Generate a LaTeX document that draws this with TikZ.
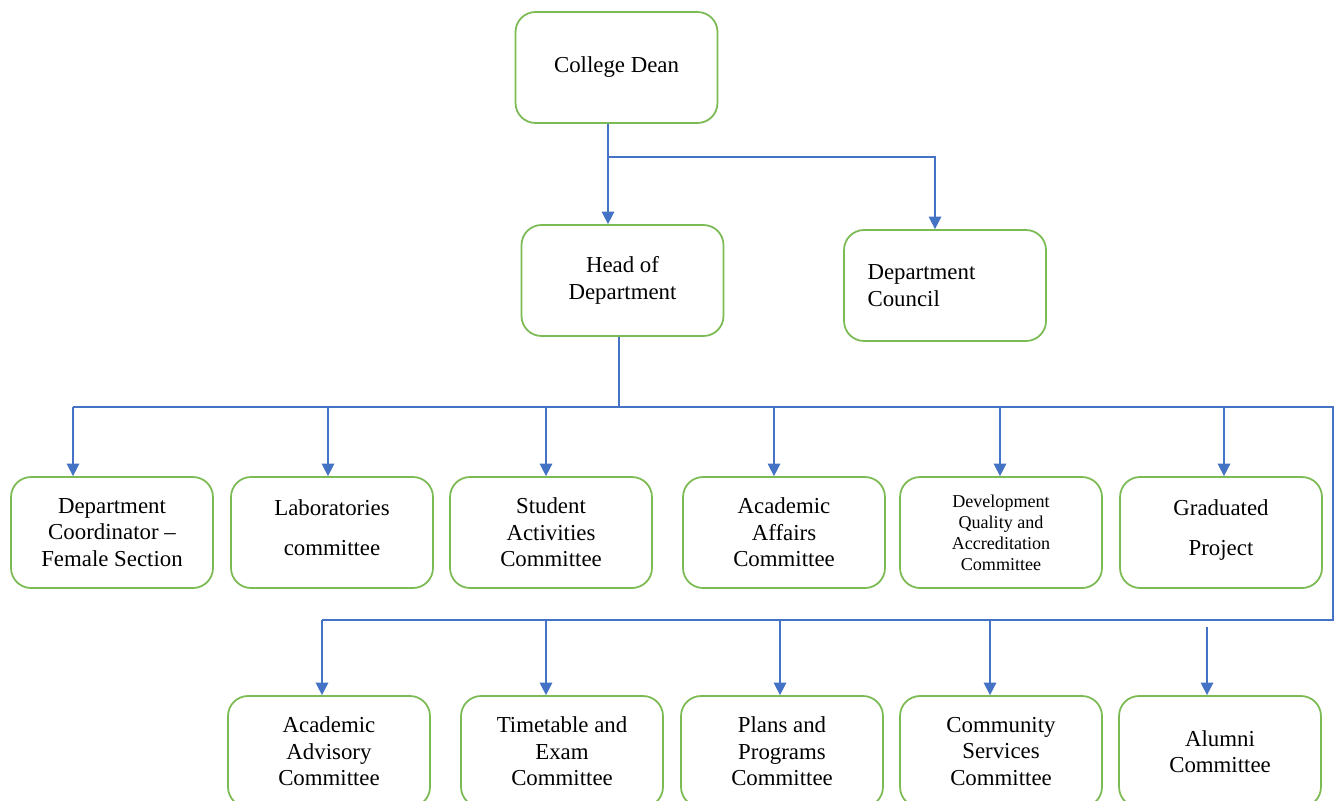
\documentclass[tikz,border=0pt]{standalone}
\usepackage{fontspec}
\setmainfont{Liberation Serif}
\usetikzlibrary{arrows.meta}
\definecolor{boxgreen}{RGB}{124,186,84}
\definecolor{linkblue}{RGB}{68,114,196}
\begin{document}
\begin{tikzpicture}[x=0.02cm,y=-0.02cm]
\tikzstyle{unit}=[anchor=center,minimum width=4.04cm,minimum height=2.22cm,rectangle,rounded corners=0.4cm,draw=boxgreen,line width=1pt,fill=white,align=center,font=\fontsize{13}{15}\selectfont]
\tikzstyle{small}=[font=\fontsize{10.3}{12}\selectfont]
\tikzstyle{bus}=[draw=linkblue,line width=0.85pt]
\tikzstyle{arrow}=[bus,-{Triangle[length=0.25cm,width=0.25cm]}]

\clip (0,0) rectangle (1335,801);
\fill [white] (0,0) rectangle (1335,801);

% top
\node [unit] at (616.5,67.5) (dean) {College Dean};
\node [unit] at (622.5,280.5) (hod) {Head of\\Department};
\node [unit,align=left,text width=3.1cm] at (945,285.5) (council) {Department\\Council};

\coordinate (dj) at (608,157);
\path [bus] (dj |- dean.south) -- (dj);
\path [arrow] (dj) -- (dj |- hod.north);
\path [arrow] (dj) -| ([xshift=-0.2cm]council.north);

% first row
\node [unit] at (112,532.5) (coord) {Department\\Coordinator –\\Female Section};
\node [unit] at (332,532.5) (labs) {\raisebox{0.19cm}{\shortstack{Laboratories\\[0.4cm]committee}}};
\node [unit] at (551,532.5) (stud) {Student\\Activities\\Committee};
\node [unit] at (784,532.5) (acad) {Academic\\Affairs\\Committee};
\node [unit,small] at (1001,532.5) (qual) {Development\\Quality and\\Accreditation\\Committee};
\node [unit] at (1221,532.5) (grad) {\raisebox{0.19cm}{\shortstack{Graduated\\[0.4cm]Project}}};

% second row
\node [unit] at (329,751.5) (adv) {Academic\\Advisory\\Committee};
\node [unit] at (562,751.5) (exam) {Timetable and\\Exam\\Committee};
\node [unit] at (782,751.5) (plan) {Plans and\\Programs\\Committee};
\node [unit] at (1001,751.5) (comm) {Community\\Services\\Committee};
\node [unit] at (1220,751.5) (alum) {Alumni\\Committee};

% bus lines
\coordinate (hj) at (619,407);
\coordinate (b1) at (73,407);
\coordinate (b2) at (328,407);
\coordinate (b3) at (546,407);
\coordinate (b4) at (774,407);
\coordinate (b5) at (1000,407);
\coordinate (b6) at (1224,407);
\coordinate (rc) at (1333,407);
\coordinate (rl) at (1333,620);
\coordinate (c1) at (322,620);
\coordinate (c2) at (546,620);
\coordinate (c3) at (780,620);
\coordinate (c4) at (990,620);
\coordinate (aj) at (1207,627);

\path [bus] (hj |- hod.south) -- (hj);
\path [bus] (b1) -- (rc) -- (rl) -- (c1);

\foreach \b/\n in {b1/coord,b2/labs,b3/stud,b4/acad,b5/qual,b6/grad,c1/adv,c2/exam,c3/plan,c4/comm,aj/alum}
  \path [arrow] (\b) -- (\b |- \n.north);
\end{tikzpicture}
\end{document}
